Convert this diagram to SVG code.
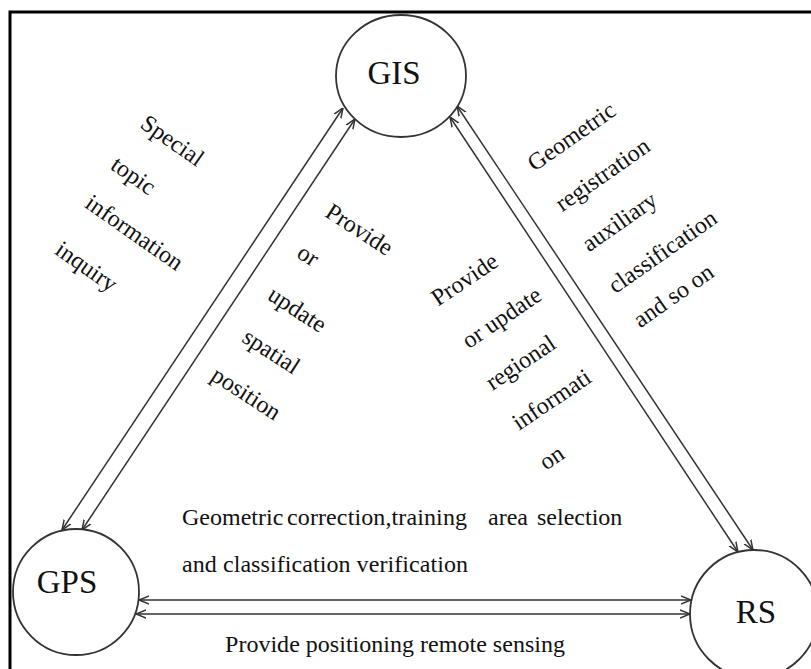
<svg xmlns="http://www.w3.org/2000/svg" width="811" height="669" viewBox="0 0 811 669">
<style>
.node{fill:#fff;stroke:#333;stroke-width:1.8}
.nl{font-family:"Liberation Serif","Times New Roman",serif;font-size:33px;fill:#111;text-anchor:middle}
.lbl{font-family:"Liberation Serif","Times New Roman",serif;font-size:24px;fill:#111}
.rl{text-anchor:middle}
.edge{stroke:#333;stroke-width:1.5;fill:none;marker-start:url(#ah);marker-end:url(#ah)}
</style>
<defs>
<marker id="ah" viewBox="0 0 10 10" refX="10" refY="5" markerWidth="10" markerHeight="10" markerUnits="userSpaceOnUse" orient="auto-start-reverse">
<path d="M0,1 L10,5 L0,9" fill="none" stroke="#333" stroke-width="1.5"/>
</marker>
</defs>
<rect x="0" y="0" width="811" height="669" fill="#fff"/>
<rect x="10" y="12" width="830" height="700" fill="none" stroke="#000" stroke-width="3"/>

<g id="connectors">
<line class="edge" x1="62" y1="530" x2="343" y2="108"/>
<line class="edge" x1="82" y1="530" x2="355" y2="119"/>
<line class="edge" x1="457" y1="106" x2="753" y2="550"/>
<line class="edge" x1="450" y1="117" x2="738" y2="552"/>
<line class="edge" x1="139" y1="600" x2="691" y2="600"/>
<line class="edge" x1="136" y1="614" x2="690" y2="614"/>
</g>

<g id="node-gis">
<ellipse class="node" cx="401" cy="76" rx="65" ry="61"/>
<text class="nl" x="394" y="84">GIS</text>
</g>
<g id="node-gps">
<circle class="node" cx="76" cy="592" r="63"/>
<text class="nl" x="67" y="593">GPS</text>
</g>
<g id="node-rs">
<circle class="node" cx="754" cy="614" r="64"/>
<text class="nl" x="756" y="623">RS</text>
</g>

<g id="labels">
<g class="lbl rl">
<text transform="translate(168,147) rotate(35)">Special</text>
<text transform="translate(129,182) rotate(35)">topic</text>
<text transform="translate(130,239) rotate(35)">information</text>
<text transform="translate(82,273) rotate(35)">inquiry</text>

<text transform="translate(355,236) rotate(33)">Provide</text>
<text transform="translate(304,262) rotate(33)">or</text>
<text transform="translate(293,316) rotate(33)">update</text>
<text transform="translate(267,358) rotate(33)">spatial</text>
<text transform="translate(242,400) rotate(33)">position</text>

<text transform="translate(469,286) rotate(-34)">Provide</text>
<text transform="translate(506,324) rotate(-34)">or update</text>
<text transform="translate(525,369) rotate(-34)">regional</text>
<text transform="translate(556,406) rotate(-34)">informati</text>
<text transform="translate(556,464) rotate(-34)">on</text>

<text transform="translate(576,143) rotate(-35)">Geometric</text>
<text transform="translate(607,181) rotate(-35)">registration</text>
<text transform="translate(624,228) rotate(-35)">auxiliary</text>
<text transform="translate(667,258) rotate(-35)">classification</text>
<text transform="translate(678,302) rotate(-35)">and so on</text>
</g>
<text class="lbl" x="182" y="525">Geometric</text>
<text class="lbl" x="287" y="525" textLength="180" lengthAdjust="spacing">correction,training</text>
<text class="lbl" x="488" y="525">area</text>
<text class="lbl" x="537" y="525">selection</text>
<text class="lbl" x="182" y="572" textLength="286" lengthAdjust="spacing">and classification verification</text>
<text class="lbl" x="225" y="652" textLength="340" lengthAdjust="spacing">Provide positioning remote sensing</text>
</g>
</svg>
